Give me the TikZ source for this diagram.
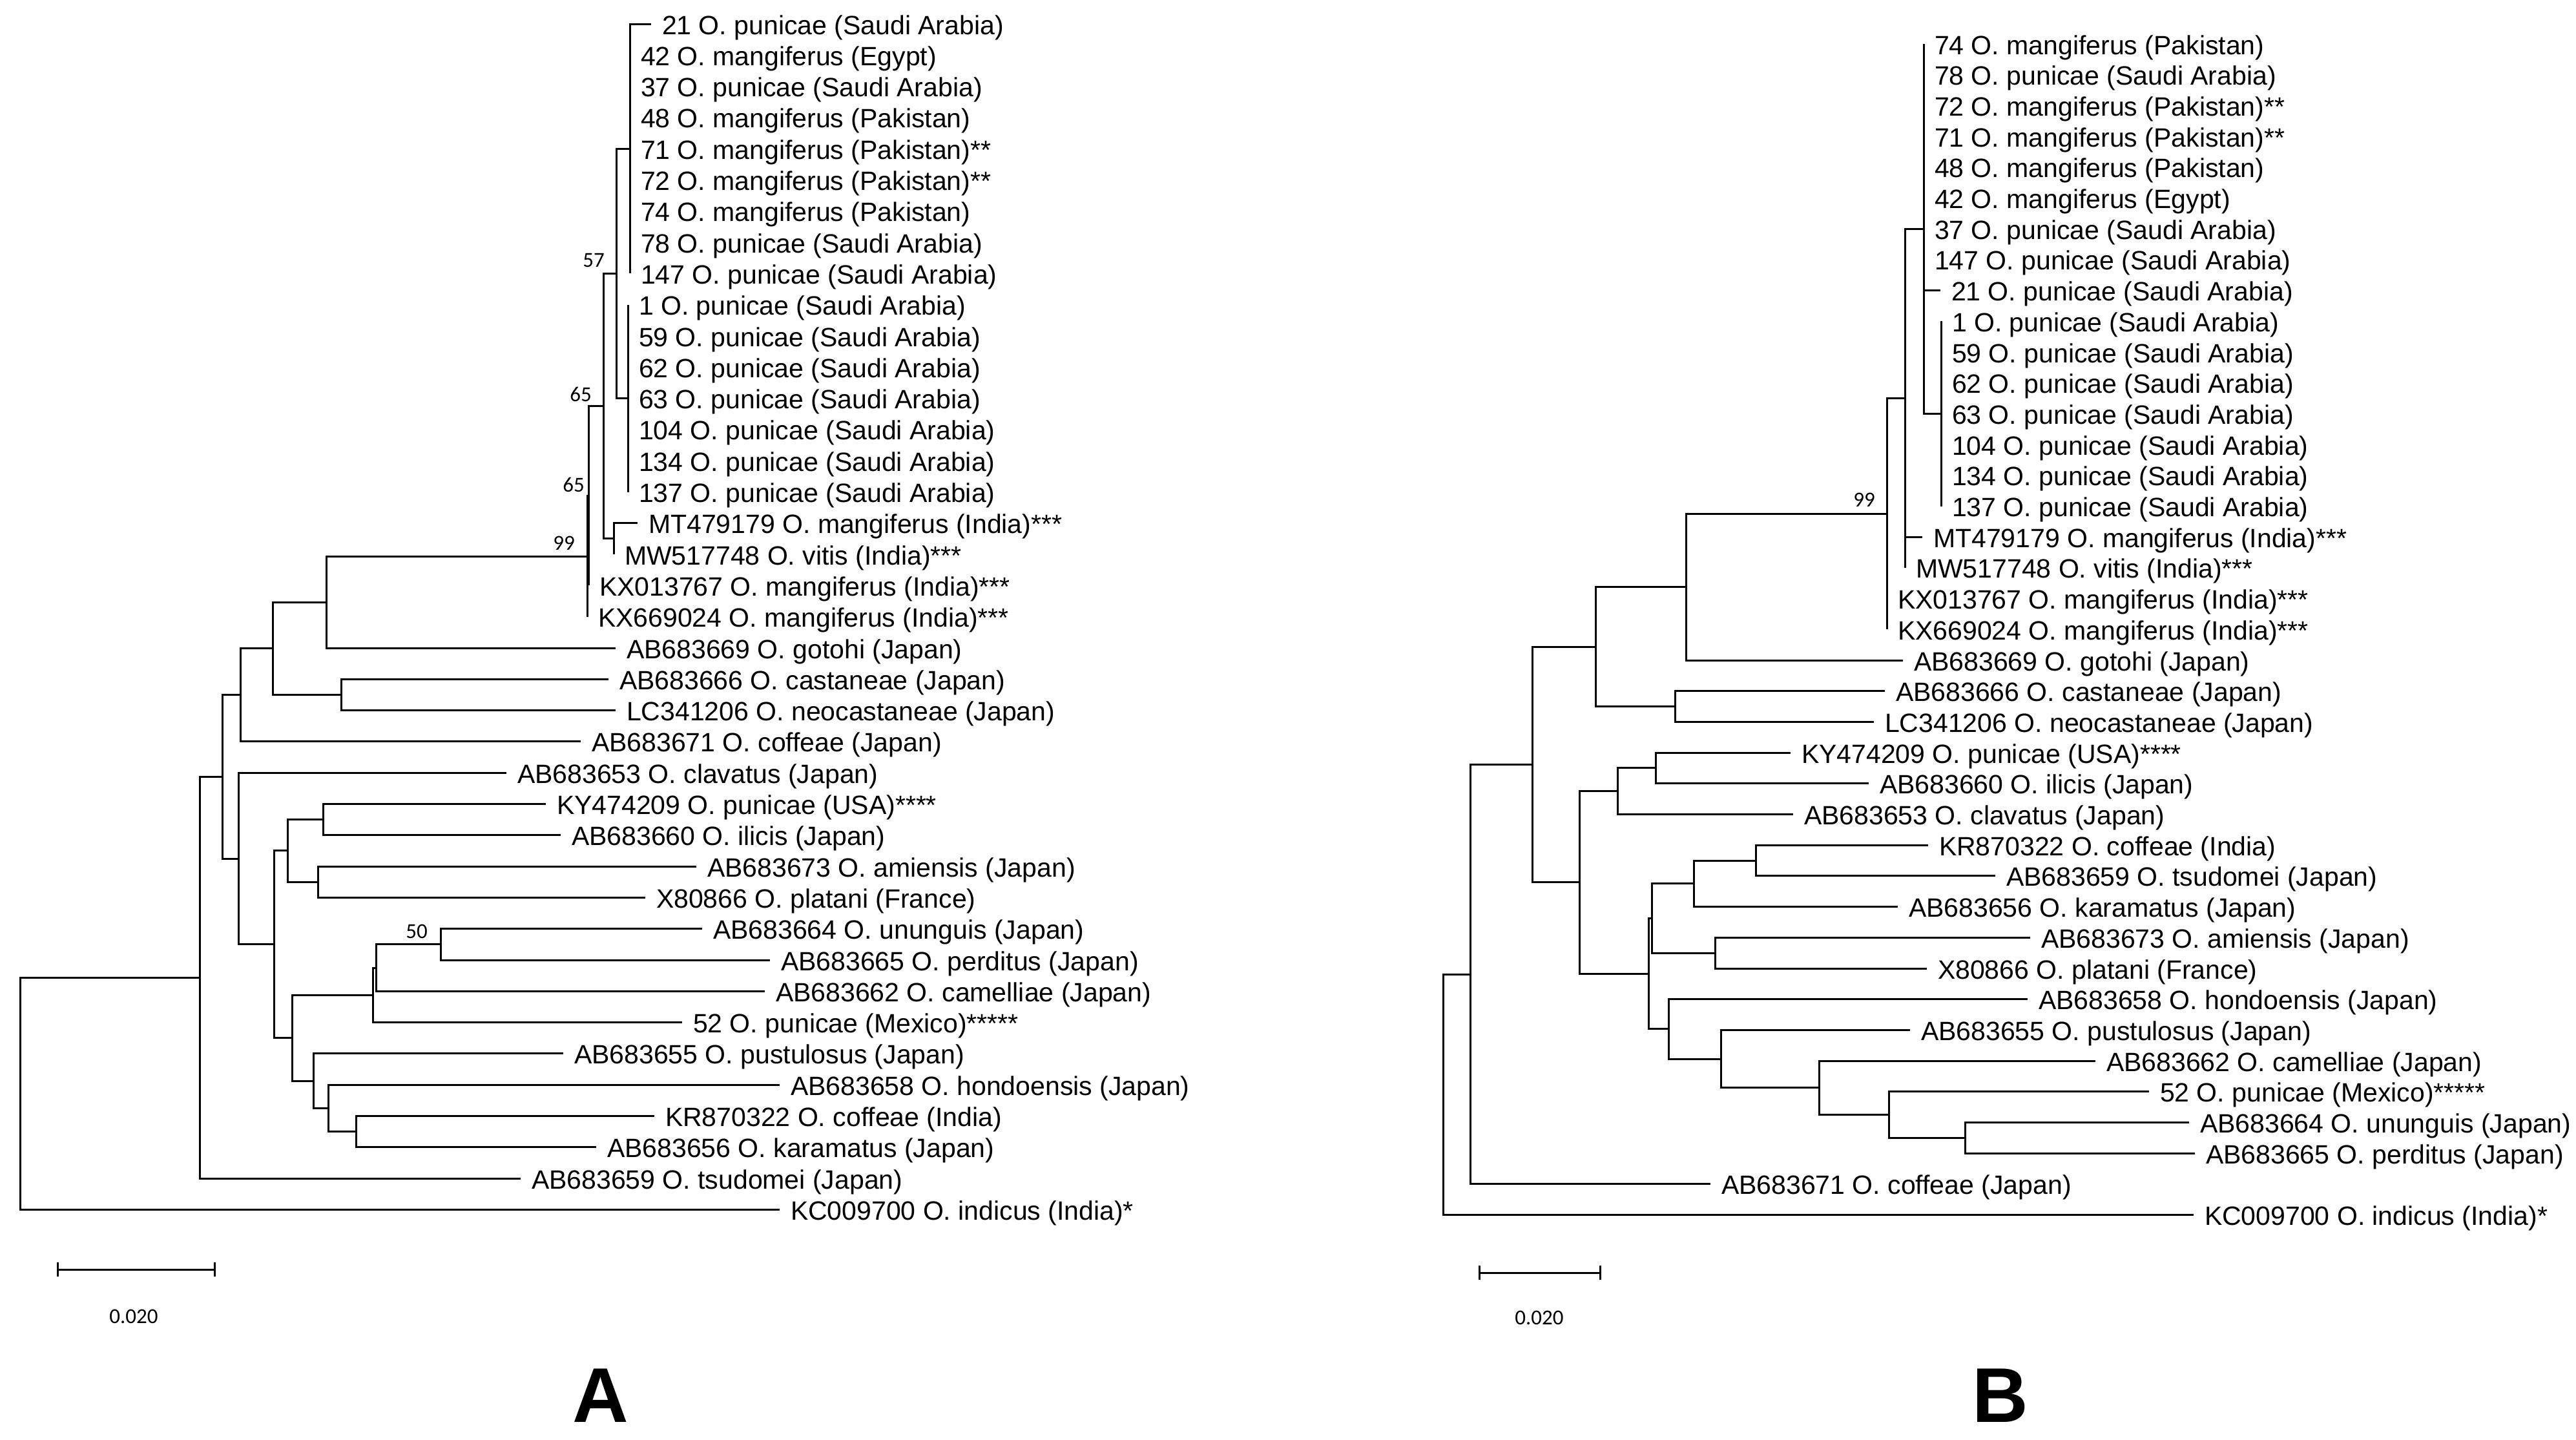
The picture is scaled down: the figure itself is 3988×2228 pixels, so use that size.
\documentclass[tikz,border=0pt]{standalone}
\usepackage{fontspec}
\setmainfont{Liberation Sans}
\newfontfamily\bsfont{Carlito}
\newcommand{\tleaf}[4]{%
  \coordinate (#1t) at (#2,#3);
  \node[lbl] (#1) at (#2+16,#3+16) {#4};}
\begin{document}
\begin{tikzpicture}[x=0.2pt,y=-0.2pt,
  br/.style={line width=0.6pt,black},
  lbl/.style={anchor=base west,inner sep=0pt,font=\fontsize{8.2}{9}\selectfont},
  bs/.style={inner sep=0pt,font=\bsfont\fontsize{6.6}{7}\selectfont},
  big/.style={inner sep=0pt,font=\bfseries\fontsize{24}{26}\selectfont}]
\useasboundingbox (0,0) rectangle (3988,2228);
\fill[white] (0,0) rectangle (3988,2228);
% ================= Tree A =================
\tleaf{A1}{1008}{37}{21 O. punicae (Saudi Arabia)}
\tleaf{A2}{975}{85.3}{42 O. mangiferus (Egypt)}
\tleaf{A3}{975}{133.6}{37 O. punicae (Saudi Arabia)}
\tleaf{A4}{975}{181.9}{48 O. mangiferus (Pakistan)}
\tleaf{A5}{975}{230.2}{71 O. mangiferus (Pakistan)**}
\tleaf{A6}{975}{278.5}{72 O. mangiferus (Pakistan)**}
\tleaf{A7}{975}{326.8}{74 O. mangiferus (Pakistan)}
\tleaf{A8}{975}{375.1}{78 O. punicae (Saudi Arabia)}
\tleaf{A9}{975}{423.4}{147 O. punicae (Saudi Arabia)}
\tleaf{A10}{972}{471.7}{1 O. punicae (Saudi Arabia)}
\tleaf{A11}{972}{520}{59 O. punicae (Saudi Arabia)}
\tleaf{A12}{972}{568.3}{62 O. punicae (Saudi Arabia)}
\tleaf{A13}{972}{616.6}{63 O. punicae (Saudi Arabia)}
\tleaf{A14}{972}{664.9}{104 O. punicae (Saudi Arabia)}
\tleaf{A15}{972}{713.2}{134 O. punicae (Saudi Arabia)}
\tleaf{A16}{972}{761.5}{137 O. punicae (Saudi Arabia)}
\tleaf{A17}{987}{809.8}{MT479179 O. mangiferus (India)***}
\tleaf{A18}{950}{858.1}{MW517748 O. vitis (India)***}
\tleaf{A19}{911}{906.4}{KX013767 O. mangiferus (India)***}
\tleaf{A20}{909}{954.7}{KX669024 O. mangiferus (India)***}
\tleaf{A21}{953}{1003}{AB683669 O. gotohi (Japan)}
\tleaf{A22}{942}{1051.3}{AB683666 O. castaneae (Japan)}
\tleaf{A23}{953}{1099.6}{LC341206 O. neocastaneae (Japan)}
\tleaf{A24}{899}{1147.9}{AB683671 O. coffeae (Japan)}
\tleaf{A25}{784}{1196.2}{AB683653 O. clavatus (Japan)}
\tleaf{A26}{845}{1244.5}{KY474209 O. punicae (USA)****}
\tleaf{A27}{868}{1292.8}{AB683660 O. ilicis (Japan)}
\tleaf{A28}{1078}{1341.1}{AB683673 O. amiensis (Japan)}
\tleaf{A29}{999}{1389.4}{X80866 O. platani (France)}
\tleaf{A30}{1087}{1437.7}{AB683664 O. ununguis (Japan)}
\tleaf{A31}{1192}{1486}{AB683665 O. perditus (Japan)}
\tleaf{A32}{1184}{1534.3}{AB683662 O. camelliae (Japan)}
\tleaf{A33}{1056}{1582.6}{52 O. punicae (Mexico)*****}
\tleaf{A34}{872}{1630.9}{AB683655 O. pustulosus (Japan)}
\tleaf{A35}{1207}{1679.2}{AB683658 O. hondoensis (Japan)}
\tleaf{A36}{1013}{1727.5}{KR870322 O. coffeae (India)}
\tleaf{A37}{923}{1775.8}{AB683656 O. karamatus (Japan)}
\tleaf{A38}{806}{1824.1}{AB683659 O. tsudomei (Japan)}
\tleaf{A39}{1207}{1872.4}{KC009700 O. indicus (India)*}
\coordinate (AR) at (31,1692.8);
\coordinate (An309) at (309,1513.25);
\coordinate (An344) at (344,1202.4);
\coordinate (An372) at (372,1075.8);
\coordinate (An422) at (422,1003.75);
\coordinate (An505) at (505,932.05);
\coordinate (An528) at (528,1075.45);
\coordinate (An909) at (909,861.1);
\coordinate (An911) at (911,767.55);
\coordinate (An934) at (934,628.7);
\coordinate (An950) at (950,833.95);
\coordinate (An954) at (954,423.4);
\coordinate (AnX) at (975,230.2);
\coordinate (AnY) at (972,616.6);
\coordinate (An369) at (369,1329.0);
\coordinate (An424) at (424,1461.85);
\coordinate (An445) at (445,1316.95);
\coordinate (AnKY) at (500,1268.65);
\coordinate (AnAm) at (492,1365.25);
\coordinate (An452) at (452,1606.75);
\coordinate (An577) at (577,1540.35);
\coordinate (An582) at (582,1498.1);
\coordinate (An682) at (682,1461.85);
\coordinate (An485) at (485,1673.15);
\coordinate (An508) at (508,1715.4);
\coordinate (An551) at (551,1751.65);
\foreach \p/\c in {AR/An309,AR/A39t,An309/An344,An309/A38t,An344/An372,An344/An369,
  An372/An422,An372/A24t,An422/An505,An422/An528,An505/An909,An505/A21t,
  An528/A22t,An528/A23t,An909/An911,An909/A20t,An911/An934,An911/A19t,
  An934/An954,An934/An950,An950/A17t,An950/A18t,An954/AnX,An954/AnY,
  AnX/A1t,AnX/A2t,AnX/A3t,AnX/A4t,AnX/A5t,AnX/A6t,AnX/A7t,AnX/A8t,AnX/A9t,
  AnY/A10t,AnY/A11t,AnY/A12t,AnY/A13t,AnY/A14t,AnY/A15t,AnY/A16t,
  An369/A25t,An369/An424,An424/An445,An424/An452,An445/AnKY,An445/AnAm,
  AnKY/A26t,AnKY/A27t,AnAm/A28t,AnAm/A29t,An452/An577,An452/An485,
  An577/An582,An577/A33t,An582/An682,An582/A32t,An682/A30t,An682/A31t,
  An485/A34t,An485/An508,An508/A35t,An508/An551,An551/A36t,An551/A37t}
  \draw[br] (\p) |- (\c);
\node[bs] (bA57) at (919,403) {57};
\node[bs] (bA65a) at (899,610) {65};
\node[bs] (bA65b) at (888,750) {65};
\node[bs] (bA99) at (873,841) {99};
\node[bs] (bA50) at (645,1442) {50};
% scale bar A
\coordinate (sbA1) at (89,1965);
\coordinate (sbA2) at (332,1965);
\draw[br] (sbA1) -- (sbA2);
\draw[br] ([yshift=2.2pt]sbA1) -- ([yshift=-2.2pt]sbA1);
\draw[br] ([yshift=2.2pt]sbA2) -- ([yshift=-2.2pt]sbA2);
\node[bs] (sbAl) at (207,2038) {0.020};
\node[big] (labA) at (930,2160) {A};
% ================= Tree B =================
\tleaf{B1}{2978}{68}{74 O. mangiferus (Pakistan)}
\tleaf{B2}{2978}{115.7}{78 O. punicae (Saudi Arabia)}
\tleaf{B3}{2978}{163.4}{72 O. mangiferus (Pakistan)**}
\tleaf{B4}{2978}{211.1}{71 O. mangiferus (Pakistan)**}
\tleaf{B5}{2978}{258.8}{48 O. mangiferus (Pakistan)}
\tleaf{B6}{2978}{306.5}{42 O. mangiferus (Egypt)}
\tleaf{B7}{2978}{354.2}{37 O. punicae (Saudi Arabia)}
\tleaf{B8}{2978}{401.9}{147 O. punicae (Saudi Arabia)}
\tleaf{B9}{3004}{449.6}{21 O. punicae (Saudi Arabia)}
\tleaf{B10}{3005}{497.3}{1 O. punicae (Saudi Arabia)}
\tleaf{B11}{3005}{545}{59 O. punicae (Saudi Arabia)}
\tleaf{B12}{3005}{592.7}{62 O. punicae (Saudi Arabia)}
\tleaf{B13}{3005}{640.4}{63 O. punicae (Saudi Arabia)}
\tleaf{B14}{3005}{688.1}{104 O. punicae (Saudi Arabia)}
\tleaf{B15}{3005}{735.8}{134 O. punicae (Saudi Arabia)}
\tleaf{B16}{3005}{783.5}{137 O. punicae (Saudi Arabia)}
\tleaf{B17}{2976}{831.2}{MT479179 O. mangiferus (India)***}
\tleaf{B18}{2949}{878.9}{MW517748 O. vitis (India)***}
\tleaf{B19}{2921}{926.6}{KX013767 O. mangiferus (India)***}
\tleaf{B20}{2921}{974.3}{KX669024 O. mangiferus (India)***}
\tleaf{B21}{2946}{1022}{AB683669 O. gotohi (Japan)}
\tleaf{B22}{2918}{1069.7}{AB683666 O. castaneae (Japan)}
\tleaf{B23}{2901}{1117.4}{LC341206 O. neocastaneae (Japan)}
\tleaf{B24}{2772}{1165.1}{KY474209 O. punicae (USA)****}
\tleaf{B25}{2893}{1212.8}{AB683660 O. ilicis (Japan)}
\tleaf{B26}{2776}{1260.5}{AB683653 O. clavatus (Japan)}
\tleaf{B27}{2985}{1308.2}{KR870322 O. coffeae (India)}
\tleaf{B28}{3089}{1355.9}{AB683659 O. tsudomei (Japan)}
\tleaf{B29}{2938}{1403.6}{AB683656 O. karamatus (Japan)}
\tleaf{B30}{3143}{1451.3}{AB683673 O. amiensis (Japan)}
\tleaf{B31}{2983}{1499}{X80866 O. platani (France)}
\tleaf{B32}{3139}{1546.7}{AB683658 O. hondoensis (Japan)}
\tleaf{B33}{2957}{1594.4}{AB683655 O. pustulosus (Japan)}
\tleaf{B34}{3244}{1642.1}{AB683662 O. camelliae (Japan)}
\tleaf{B35}{3327}{1689.8}{52 O. punicae (Mexico)*****}
\tleaf{B36}{3389}{1737.5}{AB683664 O. ununguis (Japan)}
\tleaf{B37}{3398}{1785.2}{AB683665 O. perditus (Japan)}
\tleaf{B38}{2648}{1832.9}{AB683671 O. coffeae (Japan)}
\tleaf{B39}{3396}{1880.6}{KC009700 O. indicus (India)*}
\coordinate (BR) at (2234,1694.4);
\coordinate (Bn2276) at (2276,1508.2);
\coordinate (Bn2372) at (2372,1183.5);
\coordinate (Bn2470) at (2470,1001.1);
\coordinate (Bn2610) at (2610,908.7);
\coordinate (Bn2921) at (2921,795.4);
\coordinate (Bn2949) at (2949,616.55);
\coordinate (BnX) at (2978,354.2);
\coordinate (BnY) at (3005,640.4);
\coordinate (Bn2593) at (2593,1093.55);
\coordinate (Bn2445) at (2445,1365.95);
\coordinate (Bn2504) at (2504,1224.7);
\coordinate (Bn2563) at (2563,1188.95);
\coordinate (Bn2552) at (2552,1507.2);
\coordinate (Bn2557) at (2557,1421.5);
\coordinate (Bn2622) at (2622,1367.8);
\coordinate (Bn2718) at (2718,1332.05);
\coordinate (Bn2655) at (2655,1475.15);
\coordinate (Bn2583) at (2583,1592.9);
\coordinate (Bn2664) at (2664,1639.1);
\coordinate (Bn2816) at (2816,1683.85);
\coordinate (Bn2924) at (2924,1725.6);
\coordinate (Bn3042) at (3042,1761.35);
\foreach \p/\c in {BR/Bn2276,BR/B39t,Bn2276/Bn2372,Bn2276/B38t,
  Bn2372/Bn2470,Bn2372/Bn2445,Bn2470/Bn2610,Bn2470/Bn2593,
  Bn2610/Bn2921,Bn2610/B21t,Bn2921/Bn2949,Bn2921/B19t,Bn2921/B20t,
  Bn2949/BnX,Bn2949/B17t,Bn2949/B18t,
  BnX/B1t,BnX/B2t,BnX/B3t,BnX/B4t,BnX/B5t,BnX/B6t,BnX/B7t,BnX/B8t,BnX/B9t,BnX/BnY,
  BnY/B10t,BnY/B11t,BnY/B12t,BnY/B13t,BnY/B14t,BnY/B15t,BnY/B16t,
  Bn2593/B22t,Bn2593/B23t,Bn2445/Bn2504,Bn2445/Bn2552,
  Bn2504/Bn2563,Bn2504/B26t,Bn2563/B24t,Bn2563/B25t,
  Bn2552/Bn2557,Bn2552/Bn2583,Bn2557/Bn2622,Bn2557/Bn2655,
  Bn2622/Bn2718,Bn2622/B29t,Bn2718/B27t,Bn2718/B28t,Bn2655/B30t,Bn2655/B31t,
  Bn2583/B32t,Bn2583/Bn2664,Bn2664/B33t,Bn2664/Bn2816,
  Bn2816/B34t,Bn2816/Bn2924,Bn2924/B35t,Bn2924/Bn3042,Bn3042/B36t,Bn3042/B37t}
  \draw[br] (\p) |- (\c);
\node[bs] (bB99) at (2886,774) {99};
% scale bar B
\coordinate (sbB1) at (2290,1970);
\coordinate (sbB2) at (2477,1970);
\draw[br] (sbB1) -- (sbB2);
\draw[br] ([yshift=2.2pt]sbB1) -- ([yshift=-2.2pt]sbB1);
\draw[br] ([yshift=2.2pt]sbB2) -- ([yshift=-2.2pt]sbB2);
\node[bs] (sbBl) at (2383,2040) {0.020};
\node[big] (labB) at (3097,2160) {B};
\end{tikzpicture}
\end{document}
